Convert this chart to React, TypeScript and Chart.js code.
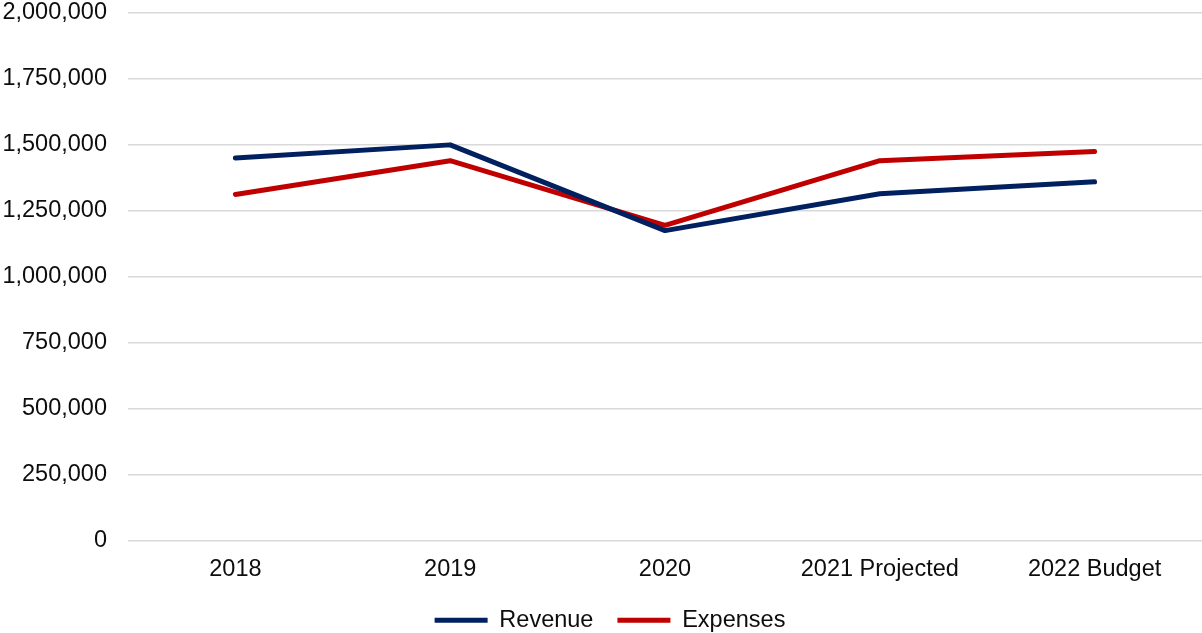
import React, { useEffect, useRef } from "react";
import { Chart, registerables } from "chart.js";

Chart.register(...registerables);

const categories = ["2018", "2019", "2020", "2021 Projected", "2022 Budget"];
const revenue = [1450000, 1500000, 1175000, 1315000, 1360000];
const expenses = [1312000, 1440000, 1195000, 1440000, 1475000];

const yMin = 0;
const yMax = 2000000;
const yStep = 250000;

const FONT = '"Liberation Sans", Arial, sans-serif';
const FONT_SIZE = 23.5;
const TEXT = "#0d0d0d";

// The legend is centred under the plot area rather than the whole canvas,
// so move its box to the right after the layout has been computed.
const legendOffset = {
  id: "legendOffset",
  afterLayout(chart: any) {
    const legend = chart.legend;
    if (!legend) return;
    legend.left += 9;
    legend.right += 9;
  },
};

export default function App() {
  const canvasRef = useRef<HTMLCanvasElement | null>(null);

  useEffect(() => {
    const canvas = canvasRef.current;
    if (!canvas) return;
    const chart = new Chart(canvas, {
      type: "line",
      data: {
        labels: categories,
        datasets: [
          {
            label: "Revenue",
            data: revenue,
            borderColor: "#002060",
            backgroundColor: "#002060",
            borderWidth: 5,
            borderCapStyle: "round",
            borderJoinStyle: "round",
            pointRadius: 0,
            pointHoverRadius: 0,
            tension: 0,
          },
          {
            label: "Expenses",
            data: expenses,
            borderColor: "#c00000",
            backgroundColor: "#c00000",
            borderWidth: 5,
            borderCapStyle: "round",
            borderJoinStyle: "round",
            pointRadius: 0,
            pointHoverRadius: 0,
            tension: 0,
          },
        ],
      },
      options: {
        animation: false,
        responsive: false,
        layout: { padding: { left: 0, right: 0, top: 0, bottom: -9 } },
        plugins: {
          tooltip: { enabled: false },
          legend: {
            position: "bottom",
            labels: {
              usePointStyle: true,
              pointStyle: "line",
              pointStyleWidth: 53,
              padding: 24,
              color: TEXT,
              font: { family: FONT, size: FONT_SIZE },
            },
          },
        },
        scales: {
          x: {
            offset: true,
            grid: { display: false, drawTicks: false },
            border: { display: false },
            ticks: {
              color: TEXT,
              padding: 15,
              font: { family: FONT, size: FONT_SIZE },
              maxRotation: 0,
            },
            afterFit: (scale: any) => {
              scale.height = 44;
            },
          },
          y: {
            min: yMin,
            max: yMax,
            grid: { color: "#d9d9d9", lineWidth: 1.5, drawTicks: false },
            border: { display: false },
            ticks: {
              stepSize: yStep,
              color: TEXT,
              padding: 21,
              font: { family: FONT, size: FONT_SIZE },
              callback: (v: any) => Number(v).toLocaleString("en-US"),
            },
            afterFit: (scale: any) => {
              scale.width = 128;
              scale.paddingTop = 13;
            },
          },
        },
      },
      plugins: [legendOffset],
    });
    return () => chart.destroy();
  }, []);

  return (
    <div style={{ position: "fixed", left: 0, top: 0, width: 1202, height: 633, background: "#fff" }}>
      <canvas ref={canvasRef} width={1202} height={633} style={{ display: "block" }} />
    </div>
  );
}
